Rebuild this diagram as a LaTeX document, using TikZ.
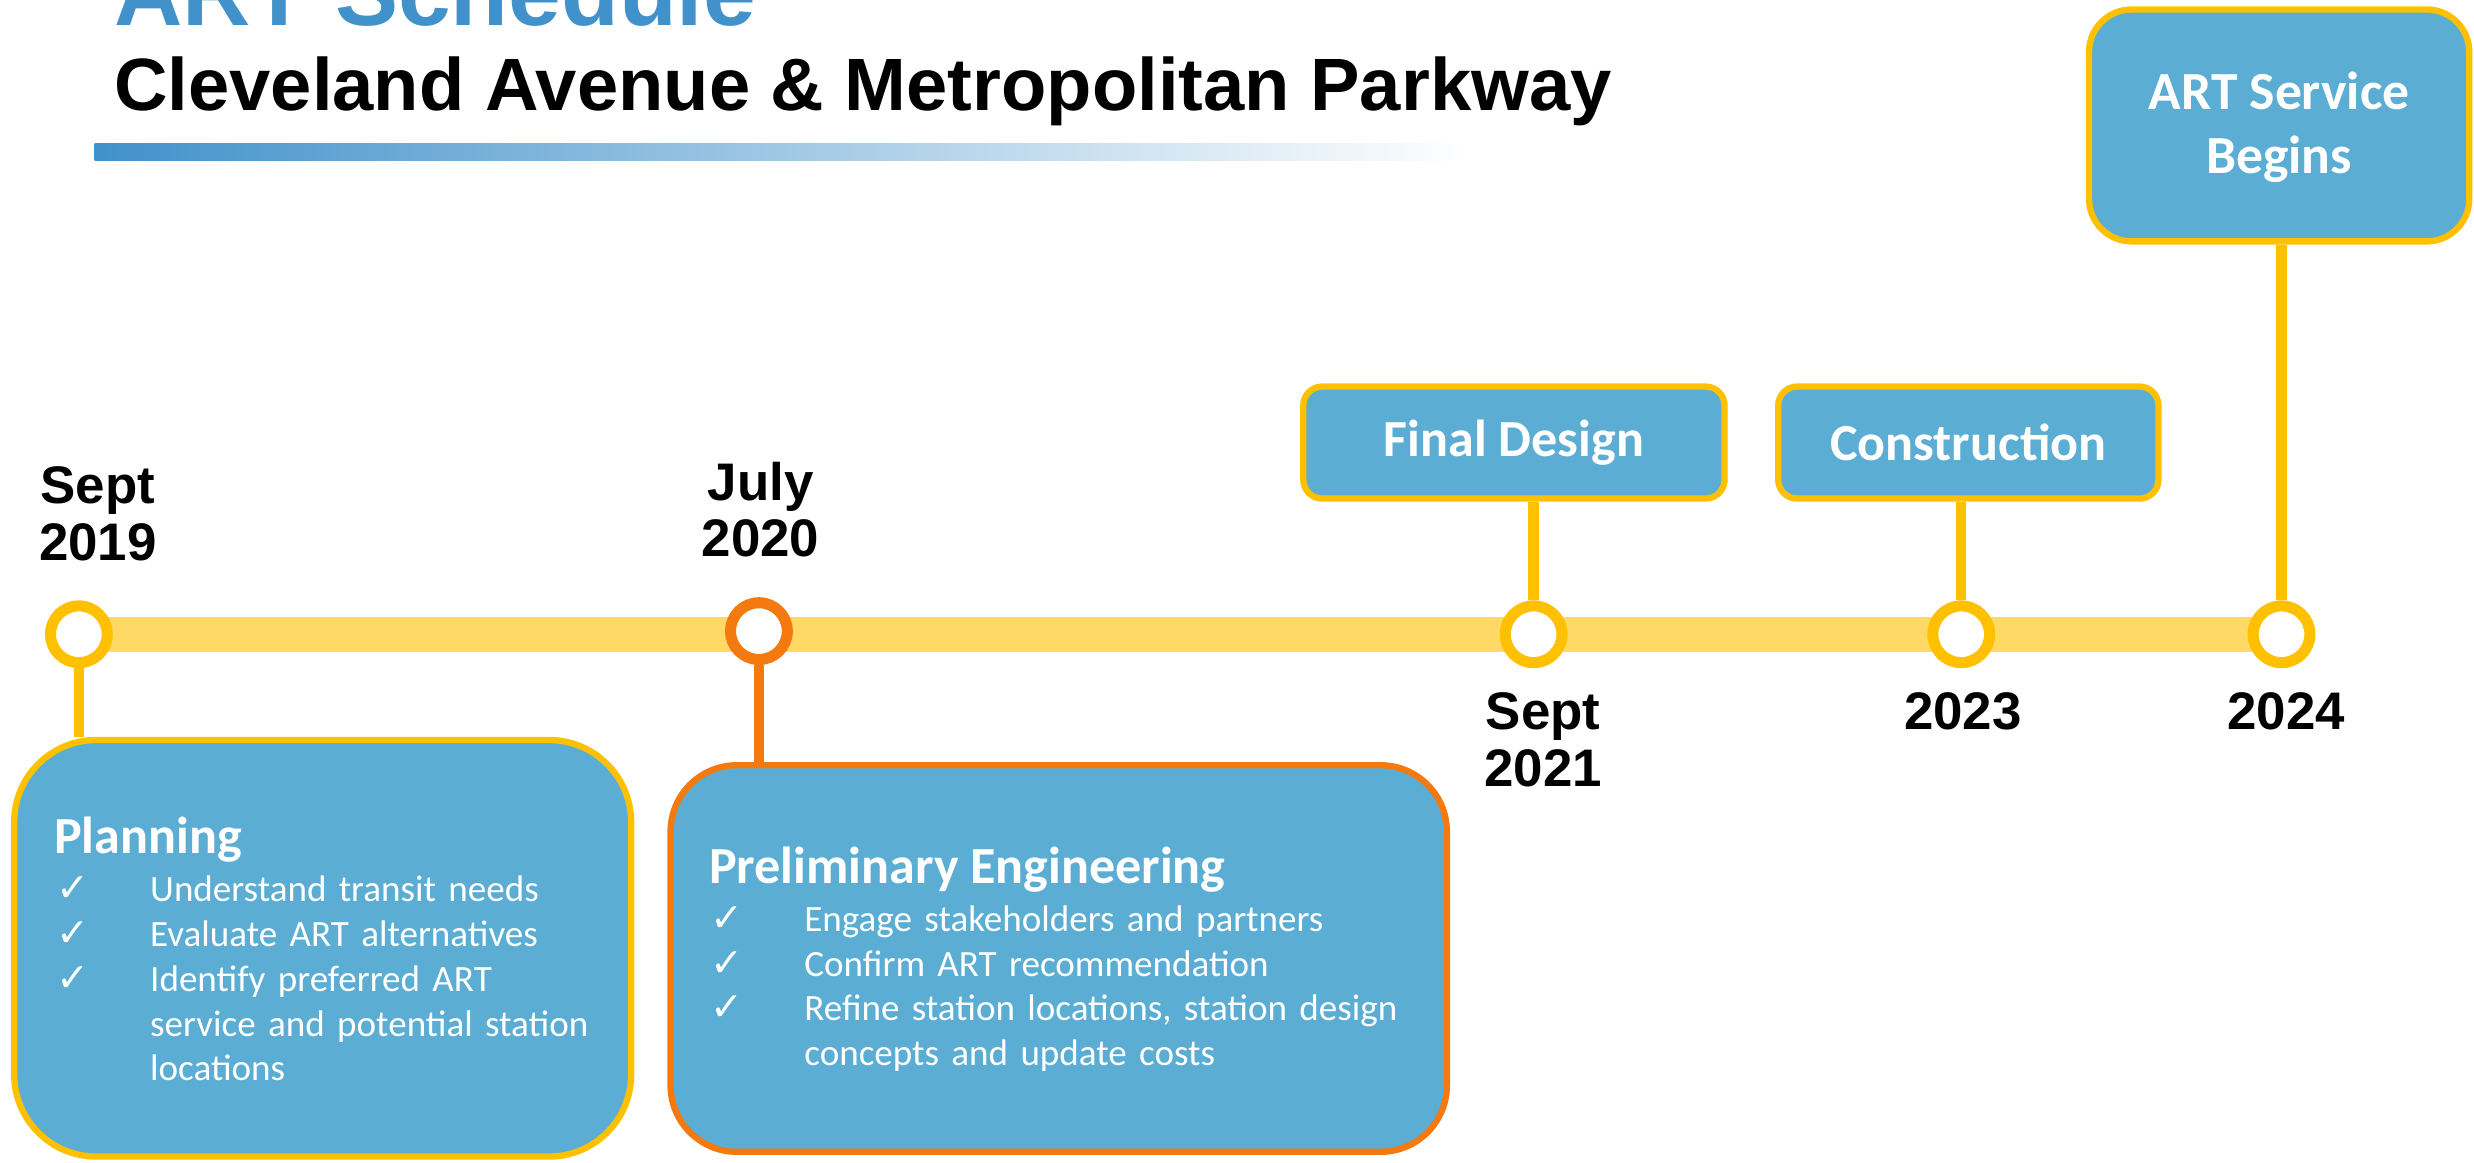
\documentclass[tikz,border=0pt]{standalone}
\usepackage{fontspec}
\setmainfont{Carlito}
\newfontfamily\arialfont{Liberation Sans}
\newfontfamily\symfont{DejaVu Sans}
\usetikzlibrary{backgrounds}
\definecolor{titleblue}{RGB}{65,145,202}
\definecolor{boxblue}{RGB}{91,173,212}
\definecolor{gold}{RGB}{255,192,0}
\definecolor{bandyellow}{RGB}{255,217,102}
\definecolor{peorange}{RGB}{244,121,14}
\newcommand{\mychk}{\makebox[29.7pt][l]{\symfont\fontsize{12.5}{12}\selectfont ✓}}
\newcommand{\mychkind}{\hspace*{29.7pt}}
\tikzset{
  phasebox/.style={draw=gold, line width=2pt, fill=boxblue, inner sep=0},
  milebox/.style={draw=gold, line width=2pt, fill=boxblue, inner sep=0, rounded corners=6pt,
    text=white, font=\bfseries\fontsize{16.5}{20}\selectfont, align=center},
  mstone/.style={circle, draw=gold, fill=white, line width=3.5pt, minimum size=18pt, inner sep=0},
  datelbl/.style={font=\arialfont\bfseries\fontsize{16.75}{18}\selectfont, align=center,
    text width=70pt, anchor=base, inner sep=0},
  stemline/.style={gold, line width=3.3pt},
  boxhead/.style={anchor=base west, inner sep=0, text=white, font=\bfseries\fontsize{16.5}{20}\selectfont},
  boxlist/.style={anchor=base west, inner sep=0, text=white, align=left,
    font=\fontsize{11.75}{14.2}\selectfont},
}
\begin{document}
\begin{tikzpicture}[x=0.5pt, y=-0.5pt]
\useasboundingbox (0,0) rectangle (1568,737);

% titles
\node[anchor=base west, inner sep=0, text=titleblue,
  font=\arialfont\bfseries\fontsize{30}{36}\selectfont] (title) at (72,16) {ART Schedule};
\node[anchor=base west, inner sep=0,
  font=\arialfont\bfseries\fontsize{23.5}{28}\selectfont] (subtitle) at (72,70)
  {Cleveland Avenue \& Metropolitan Parkway};
\shade[left color=titleblue, right color=white] (60,91) rectangle (932,102);

% milestones
\node[mstone] (c1) at (50,402) {};
\node[mstone, draw=peorange] (c2) at (481,400) {};
\node[mstone] (c3) at (972,402) {};
\node[mstone] (c4) at (1243,402) {};
\node[mstone] (c5) at (1446,402) {};

% date labels
\node[datelbl] (d1) at (62,319) {Sept\\2019};
\node[datelbl] (d2) at (482,317) {July\\2020};
\node[datelbl] (d3) at (978,462.6) {Sept\\2021};
\node[datelbl] (d4) at (1244,462.6) {2023};
\node[datelbl] (d5) at (1449,462.6) {2024};

% phase boxes
\node[phasebox, rounded corners=26pt, minimum width=195.5pt, minimum height=132pt] (plan) at (204.5,601) {};
\node[phasebox, draw=peorange, rounded corners=21pt, minimum width=246pt, minimum height=122.5pt] (peng) at (671,607.5) {};
\node[milebox, minimum width=133.5pt, minimum height=35.5pt] (fd) at (959.5,280.5) {Final Design};
\node[milebox, minimum width=120.5pt, minimum height=35.5pt] (cons) at (1247.5,280.5) {Construction};
\node[milebox, rounded corners=13.5pt, minimum width=120.5pt, minimum height=73.5pt,
  font=\bfseries\fontsize{17}{20.35}\selectfont, text depth=1.5pt] (art) at (1444.5,79.5) {ART Service\\Begins};

% box texts
\node[boxhead] (planhead) at (34,541) {Planning};
\node[boxlist, text width=185pt] (planlist) at (35.4,571.5)
  {\mychk Understand transit needs\\
   \mychk Evaluate ART alternatives\\
   \mychk Identify preferred ART\\
   \mychkind service and potential station\\
   \mychkind locations};
\node[boxhead] (penghead) at (449,560) {Preliminary Engineering};
\node[boxlist, text width=235pt, font=\fontsize{11.75}{14.1}\selectfont] (penglist) at (450,590.4)
  {\mychk Engage stakeholders and partners\\
   \mychk Confirm ART recommendation\\
   \mychk Refine station locations, station design\\
   \mychkind concepts and update costs};

\begin{pgfonlayer}{background}
  \draw[bandyellow, line width=11pt] (c1.center) -- (c5.center);
  \draw[stemline] (c1.south) -- (c1.south |- plan.north);
  \draw[stemline, peorange] (c2.south) -- (c2.south |- peng.north);
  \draw[stemline] (c3.north) -- (c3.north |- fd.south);
  \draw[stemline] (c4.north) -- (c4.north |- cons.south);
  \draw[stemline] (c5.north) -- (c5.north |- art.south);
\end{pgfonlayer}
\end{tikzpicture}
\end{document}
